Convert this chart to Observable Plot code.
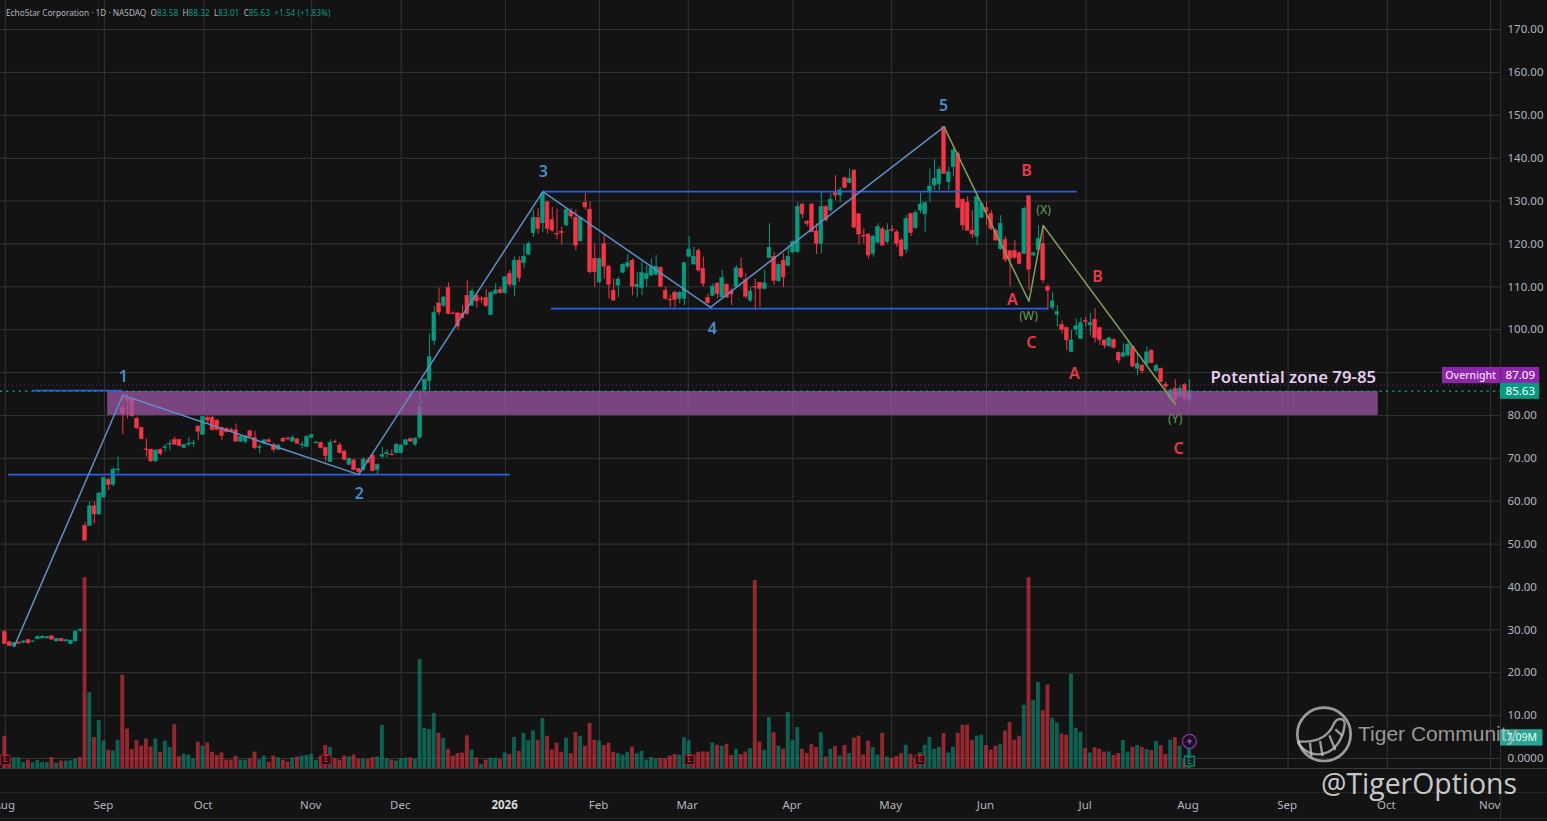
<!DOCTYPE html>
<html><head><meta charset="utf-8">
<script src="https://cdn.jsdelivr.net/npm/d3@7"></script>
<script src="https://cdn.jsdelivr.net/npm/@observablehq/plot@0.6"></script>
<style>
html,body{margin:0;padding:0;background:#131313;width:1547px;height:821px;overflow:hidden}
#wrap{position:relative;width:1547px;height:821px}
#wrap svg.plot{display:block;position:absolute;left:0;top:0}
#head{position:absolute;left:6px;top:7px;font:8.25px "Noto Sans",sans-serif;color:#b2b5be;white-space:pre}
#head b{font-weight:400;color:#089981}
#wm1{position:absolute;left:1358px;top:722px;font:21px "Liberation Sans",sans-serif;color:rgba(205,205,205,.72);white-space:nowrap}
#wm2{position:absolute;left:1321px;top:764px;font:28.4px "Open Sans",sans-serif;color:rgba(225,225,225,.9);white-space:nowrap}
#logo{position:absolute;left:1170px;top:700px}
</style></head><body>
<div id="wrap">
<div id="chart"></div>
<div id="head">EchoStar Corporation · 1D · NASDAQ  O<b>83.58</b>  H<b>88.32</b>  L<b>83.01</b>  C<b>85.63</b>  <b>+1.54 (+1.83%)</b></div>
<svg id="logo" width="377" height="110" viewBox="0 0 1131 330" fill="none" stroke="rgba(200,200,200,.75)">
<circle cx="462" cy="103" r="80" stroke-width="8"/>
<path d="M385 128C420 188 512 172 524 75C526 52 500 50 490 75C475 108 440 130 388 124Z" stroke-width="7"/>
<path d="M420 128L424 170M450 123L458 168M478 106L496 150M496 88L518 108" stroke-width="7"/>
</svg>
<div id="wm1">Tiger Community</div>
<div id="wm2">@TigerOptions</div>
</div>
<script>
const opens=[29.5,27.1,26.1,27.0,27.0,27.6,27.2,27.8,28.0,28.0,
28.5,27.3,27.9,27.3,26.7,27.3,29.8,54.2,54.2,58.8,
56.9,60.9,65.0,63.8,67.2,81.7,84.0,83.7,79.2,77.1,
72.1,72.0,69.3,72.0,72.4,73.2,74.3,74.3,72.4,73.2,
73.4,77.4,75.5,79.4,79.4,78.8,77.1,76.9,76.6,76.5,
73.9,73.9,76.3,74.7,72.4,73.4,74.2,73.1,72.0,74.5,
74.6,73.9,74.4,73.0,72.7,74.8,73.5,73.6,72.4,69.1,
73.8,73.0,71.6,68.5,69.5,67.5,67.3,69.5,70.6,67.3,
70.4,71.0,70.9,71.2,71.2,73.1,74.5,73.2,74.8,85.8,
88.0,97.4,106.1,105.6,109.7,103.8,103.8,103.7,107.9,105.6,
107.9,107.2,107.4,103.4,108.3,109.3,108.5,113.0,110.3,116.1,
115.5,117.5,122.5,126.0,124.8,129.7,125.6,122.3,122.8,124.3,
127.5,126.0,120.6,129.6,128.0,116.5,111.0,120.0,114.7,109.1,
110.3,113.3,114.7,116.1,109.9,109.7,111.8,112.6,112.8,114.4,
109.1,107.0,108.6,107.2,107.2,117.0,115.2,118.4,114.2,107.4,
107.9,110.7,107.5,110.5,108.9,110.0,114.2,111.6,106.8,110.0,
110.9,109.5,116.7,117.0,111.3,116.1,114.9,118.0,118.1,129.2,
125.2,129.2,122.9,120.0,128.6,127.8,132.0,131.3,135.3,134.2,
137.1,126.9,121.9,122.2,117.7,120.3,123.4,120.4,123.3,122.7,
120.8,118.6,127.0,123.7,127.8,126.9,132.2,133.6,133.9,147.2,
134.4,137.9,141.0,130.3,129.6,123.1,121.7,126.1,128.4,127.0,
123.1,118.8,120.9,118.3,118.3,117.8,117.7,131.1,117.3,118.6,
120.0,109.9,105.1,103.5,101.1,100.4,94.8,100.0,97.9,102.0,
101.0,102.3,100.4,97.5,96.1,97.6,94.6,93.7,94.0,96.0,
90.9,91.6,92.0,95.1,90.3,90.9,87.2,83.9,86.2,84.4,
87.1,83.58];
const highs=[29.8,27.3,27.0,27.2,27.4,27.7,27.4,28.6,28.7,28.4,
28.5,28.0,28.0,27.7,27.6,29.7,30.2,55.1,59.8,59.8,
62.0,65.5,65.4,67.9,70.4,85.2,85.0,84.0,79.6,77.2,
74.5,72.2,72.0,72.2,73.2,74.2,75.0,74.4,73.2,74.9,
74.2,77.6,79.8,80.0,79.8,79.0,77.3,77.1,77.0,78.0,
75.2,75.3,76.5,76.3,73.2,74.3,74.6,73.5,73.2,74.9,
75.0,75.3,74.7,73.9,75.2,75.6,73.9,73.8,72.6,74.3,
74.3,73.6,71.8,70.1,69.7,67.7,70.1,70.2,71.0,68.7,
72.6,72.0,72.0,73.4,73.2,74.4,74.7,74.8,86.0,88.5,
99.0,105.4,109.7,107.7,110.9,104.2,104.0,105.6,111.4,109.5,
108.3,107.7,109.3,108.9,110.7,109.9,112.4,113.8,116.9,117.0,
119.8,120.4,127.8,128.2,132.0,130.0,128.5,128.1,123.9,128.4,
128.2,127.9,126.2,131.8,129.7,120.0,116.7,122.3,115.0,111.8,
112.2,115.3,117.6,116.5,113.4,115.7,114.9,116.5,117.3,114.7,
109.9,108.0,109.1,109.0,115.7,121.7,119.2,118.8,116.9,108.3,
110.7,111.0,113.8,110.7,109.5,114.9,116.7,113.0,109.9,111.8,
111.0,113.8,124.7,118.0,115.3,117.7,119.6,120.8,129.7,129.3,
125.4,129.3,124.7,132.0,129.0,131.7,135.9,133.2,135.6,137.5,
137.3,127.0,123.5,122.3,122.0,124.7,123.9,124.7,124.3,123.1,
121.2,126.6,127.2,127.8,131.8,129.7,137.5,139.6,137.9,147.4,
137.9,142.2,141.4,130.5,131.0,127.8,131.3,129.3,129.7,127.8,
123.5,126.6,121.7,118.5,120.8,118.1,128.6,131.3,118.1,124.3,
124.3,110.5,108.7,105.6,102.1,100.6,99.8,102.5,102.8,102.9,
103.7,105.0,100.6,97.6,98.2,97.9,94.8,96.7,97.1,96.3,
94.4,92.0,96.0,95.3,92.0,91.0,87.8,86.2,88.3,87.0,
87.4,88.32];
const lows=[26.6,26.1,26.0,26.6,26.8,26.6,27.1,27.7,27.9,27.9,
27.7,27.2,27.3,27.2,26.5,27.2,29.4,50.8,54.2,54.7,
56.7,60.6,62.5,63.3,66.4,75.5,79.2,79.6,76.6,74.3,
70.3,69.0,69.0,70.6,71.4,71.8,73.0,72.7,72.2,72.7,
72.6,74.2,75.4,78.0,76.3,76.4,74.2,75.9,76.0,73.7,
73.6,73.4,74.8,72.0,71.0,73.2,73.6,71.3,71.8,73.7,
74.2,73.8,73.2,72.2,72.5,74.6,73.3,72.2,69.1,69.0,
73.4,71.0,69.4,68.3,67.1,66.5,67.0,68.8,66.8,66.0,
69.9,70.1,70.6,71.0,71.0,72.9,73.7,72.8,74.5,85.0,
85.8,96.3,103.3,105.2,103.5,103.5,99.9,102.5,103.3,105.4,
105.0,106.2,105.1,103.3,108.2,108.3,108.3,109.9,107.7,111.0,
114.2,117.3,121.5,122.3,122.7,122.3,122.7,121.0,119.8,124.0,
125.8,118.4,120.4,127.9,113.0,109.9,110.8,111.8,107.2,106.6,
107.5,113.0,114.2,107.9,107.5,107.9,109.9,112.4,112.6,109.9,
106.9,105.2,105.1,106.0,105.6,116.9,115.0,113.4,109.9,105.8,
107.7,107.2,107.4,107.2,105.6,109.7,111.8,107.2,106.4,104.4,
105.2,109.3,116.5,110.3,111.0,109.9,114.7,117.7,117.8,125.9,
124.0,122.7,117.5,117.7,125.1,127.4,130.1,129.7,132.8,134.0,
123.5,119.8,120.0,116.5,116.9,120.0,119.6,120.0,122.7,119.2,
116.9,117.7,121.7,123.3,127.0,122.7,129.7,132.5,132.5,136.2,
132.5,135.6,128.2,123.1,123.0,121.2,119.6,125.9,124.3,123.1,
120.6,118.5,115.7,110.0,116.5,115.1,117.5,109.1,117.0,118.5,
110.7,104.5,104.5,100.6,99.0,95.1,94.7,98.6,97.6,100.6,
98.6,96.9,96.3,95.5,95.9,95.5,92.0,93.6,93.6,91.1,
89.3,89.7,91.6,92.0,90.1,87.6,85.4,83.6,83.1,84.1,
83.6,83.01];
const closes=[26.7,26.2,26.9,26.8,27.3,26.9,27.3,28.3,28.4,28.3,
27.7,27.9,27.3,27.6,27.5,29.6,30.0,50.8,58.8,56.9,
61.8,65.4,63.8,67.3,67.4,80.4,83.4,79.8,77.0,74.5,
71.9,69.3,71.8,71.0,72.6,73.4,73.2,72.9,73.1,73.4,
73.5,76.2,79.6,78.8,76.6,76.6,75.2,76.1,76.2,73.9,
75.0,75.1,75.0,72.4,72.6,74.2,73.8,72.0,73.0,73.9,
74.4,74.8,73.4,73.2,75.0,75.4,73.7,72.4,70.5,73.6,
73.7,71.2,69.6,69.9,67.3,66.8,69.7,69.0,67.0,68.5,
70.8,71.2,70.7,73.2,73.0,74.2,73.9,74.6,81.9,88.3,
93.6,103.9,104.0,107.5,103.7,103.7,100.7,102.7,103.7,108.9,
106.6,107.0,105.5,108.5,109.1,108.5,112.2,110.5,116.1,112.0,
117.0,120.0,126.0,123.5,131.7,123.5,123.1,122.2,122.5,127.9,
126.4,119.6,126.0,128.5,113.4,113.4,116.5,114.7,110.5,106.8,
111.7,115.1,115.5,110.0,110.5,113.2,113.0,114.5,114.7,110.0,
107.2,106.8,106.9,108.6,115.5,118.7,117.0,113.8,110.7,106.2,
110.0,108.3,112.0,107.5,108.2,114.3,112.2,107.7,108.9,109.8,
109.5,110.8,119.1,111.4,115.1,112.2,117.0,120.4,128.7,126.9,
124.7,122.7,120.0,128.6,125.5,130.3,131.3,132.5,133.1,135.2,
123.8,122.2,121.7,117.3,121.7,123.9,119.6,123.1,123.1,120.0,
117.1,125.8,122.5,127.2,129.2,129.5,133.4,135.2,137.3,136.3,
136.7,141.8,128.4,124.3,123.1,122.2,130.9,129.3,127.4,123.5,
120.8,124.7,116.3,116.5,116.7,115.3,128.2,114.0,117.8,121.2,
111.5,109.1,106.6,104.1,100.0,97.5,97.5,100.8,101.5,101.8,
101.6,98.1,97.6,96.3,98.0,95.8,92.8,94.5,96.5,91.4,
92.0,90.3,94.7,92.2,91.5,87.8,86.7,85.8,83.6,86.2,
83.9,85.63];
const volumes=[10.4,3.0,3.4,3.4,1.9,2.7,1.8,2.6,1.9,1.9,
3.5,1.7,2.4,2.4,2.5,3.1,3.5,61.5,24.4,10,
15.5,8.8,5.9,5.7,9.1,30,12.7,6.1,9,7.2,
9.5,6.9,9.5,5.2,8.8,6.7,14.1,3.8,4.6,4.3,
3.1,8.5,7.2,8.2,5.2,4.2,5,2.7,2.7,3.9,
2.7,2.7,3.1,5.3,2.8,4,2,4,3.4,2.7,
2.1,3.4,3.7,4,4.2,4.6,2.6,3.8,7.4,6.8,
3.2,2.7,4,3.7,4.3,3,3,3,3.5,3.7,
13.9,3.1,2.7,2.4,3.1,3.3,3.4,3,35.1,12.9,
12.6,17.7,11.3,9.7,6.2,4,4.8,5,10.5,5.9,
3.4,1.3,2.7,3.3,3.3,3,5,4.5,10,5.5,
11.3,8.9,12.1,9.1,16.1,10.4,5.9,8.1,5.2,9.7,
4.8,11.6,10.4,7.2,14.5,9.1,8.9,7.4,8.1,5.2,
4.8,4.3,5.2,6.9,4.8,5.5,2.7,3.5,3.1,3.3,
3.1,4,4.5,4.3,9.9,8.9,4.3,5.2,5.3,5.3,
8.2,7.5,7.2,7.8,4.2,6.2,4.5,5.3,6.4,60.6,
8.5,5.9,16.4,11.5,7.2,6.2,18,8.9,13.2,6.2,
4.8,7.7,6.8,11.5,3.7,6.2,7.1,4,7.4,4.8,
9.8,10.4,4.4,8.8,6.7,4.3,11.3,3.7,3.3,3.9,
4.8,7.5,4.6,3.2,5,7.5,10,6.2,6.8,11.3,
5,6.8,11.3,13.9,14,9.1,10.4,10.7,7.4,5.9,
7.2,7.7,12.1,14.8,9.1,10.4,20.4,61.5,22,27.7,
18.6,26.9,16.2,14.7,11.1,10.7,30.4,12.9,11.7,6.4,
5,6.7,6.2,5.3,5.3,4.2,4.8,9,5.3,6.8,
7.4,6.8,6.1,5.8,8.7,7.4,4.6,9.1,10,7.2,
3,7.09];
const volumeDirs=["rrgggrgggg","rgrgggrrgr","ggrggrrrrr","rrgrggrrgg","grgrrrrrrr",
"ggrrggrrgr","rgrggggrrg","rrrgrrgrrg","ggrgggrggg","ggrgrrrrrg",
"rgrggrgrgr","gggrgrrrrg","rrgrrrgrrr","gggrgggggr","rrrgggrrrr",
"grgrrgrrgr","rggrgrgggr","rrrgrgrgrg","rrrrggrgrr","rgrrgggggr",
"ggrrrrggrr","rgrrrrgrgg","rrggrrgggr","grrrgrrggr","grgrgrrgrg","rg"].join("");
const priceTicks=[0,10,20,30,40,50,60,70,80,90,100,110,120,130,140,150,160,170];
const monthTicks=[0.1,21.1,42.2,65,84,126,144.8,167,187.9,208,229.1,250.9,271.9,292.9,314.8];
const monthNames=["Aug","Sep","Oct","Nov","Dec","Feb","Mar","Apr","May","Jun","Jul","Aug","Sep","Oct","Nov"];
const yearTick=[106.1];
const yearName="2026";
const waveBars=[2,25,75,114,149.5,199];
const wavePrices=[26.1,84.7,66.2,132.2,105.2,147.3];
const corrBars=[199,217,220,248];
const corrPrices=[147.3,106.6,124.3,82.6];
const levels=[{p:85.8,a:6,b:25},{p:66.2,a:0.8,b:107.1},{p:132.2,a:114,b:227.2},{p:104.9,a:115.8,b:221.1}];
const zone={a:21.8,b:291,lo:80,hi:85.6};
const waveLabels=[["1",25.1,89.1],["2",75.1,61.6],["3",114.1,136.9],["4",149.9,100.3],["5",198.9,152.1]];
const abcLabels=[["B",216.5,137.1],["A",213.5,107],["C",217.5,97],["A",226.6,89.8],["B",231.5,112.4],["C",248.7,72.3]];
const wxyLabels=[["(X)",220.1,127.8],["(W)",216.9,103.1],["(Y)",248,79.1]];
const earnings=[0.1,68.1,145,193.9];
const lastClose=85.63, overnight=87.09, lastVol=7.09;

const RED="#f23645",GREEN="#089981",GRID="#343434",AX="#b2b5be",FONT="Noto Sans";
const volBase=-2.332, volK=0.7236; // volume pane: millions mapped onto the pane's shared scale
const xMax=316.9, xEdge=326.8;
const idx=d3.range(opens.length);
const up=i=>closes[i]>=opens[i];
const bolt={draw(c){c.moveTo(1,-4.2);c.lineTo(-2.6,0.8);c.lineTo(-0.2,0.8);c.lineTo(-1,4.2);c.lineTo(2.6,-1);c.lineTo(0.2,-1);c.closePath();}};
const lab=(arr,fill,size,weight)=>Plot.text(arr,{x:d=>d[1],y:d=>d[2],text:d=>d[0],fill,fontSize:size,fontWeight:weight,fontFamily:FONT});
const chart=Plot.plot({
 width:1547,height:821,marginTop:0,marginBottom:53,marginLeft:0,marginRight:47,
 style:{background:"transparent",overflow:"visible"},
 x:{domain:[-0.911,xMax],axis:null},
 y:{domain:[-2.332,176.77],axis:null},
 marks:[
  Plot.gridY(priceTicks,{stroke:GRID,strokeOpacity:1}),
  Plot.gridX(monthTicks.concat(yearTick),{stroke:GRID,strokeOpacity:1}),
  Plot.rect(idx,{x1:i=>i-.41,x2:i=>i+.41,y1:volBase,y2:i=>volBase+volumes[i]*volK,
    fill:i=>volumeDirs[i]==="g"?GREEN:RED,fillOpacity:.58}),
  Plot.ruleY([-2.332],{x1:-0.911,x2:xEdge,stroke:"#3a3a3a"}),
  Plot.ruleY([-7.93],{x1:-0.911,x2:xEdge,stroke:"#242424"}),
  Plot.ruleY([-14],{x1:-0.911,x2:xEdge,stroke:"#2f2f2f"}),
  Plot.ruleX([xMax],{y1:176.77,y2:-14,stroke:"#2f2f2f"}),
  Plot.ruleX(idx,{x:i=>i,y1:i=>lows[i],y2:i=>highs[i],stroke:i=>up(i)?GREEN:RED,strokeWidth:1}),
  Plot.rect(idx,{x1:i=>i-.4,x2:i=>i+.4,y1:i=>opens[i],y2:i=>closes[i],
    fill:i=>up(i)?GREEN:RED,stroke:i=>up(i)?GREEN:RED,strokeWidth:.5}),
  Plot.rect([zone],{x1:"a",x2:"b",y1:"lo",y2:"hi",fill:"#9c56a4",fillOpacity:.75}),
  Plot.ruleY([overnight],{x1:-0.911,x2:xMax,stroke:"#7b2d8c",strokeDasharray:"1 3",strokeOpacity:.8}),
  Plot.ruleY([lastClose],{x1:-0.911,x2:xMax,stroke:GREEN,strokeWidth:1.5,strokeDasharray:"2 4.3"}),
  Plot.ruleY(levels,{y:"p",x1:"a",x2:"b",stroke:"#2b5fe8",strokeWidth:1.8}),
  Plot.line(waveBars.map((b,k)=>[b,wavePrices[k]]),{x:"0",y:"1",stroke:"#5f8fc4",strokeWidth:1.5}),
  Plot.line(corrBars.map((b,k)=>[b,corrPrices[k]]),{x:"0",y:"1",stroke:"#7f9f5c",strokeWidth:1.5}),
  lab(waveLabels,"#4a8ac9",16,600),
  lab(abcLabels,"#e8394a",16,600),
  lab(wxyLabels,"#5f8f52",12,500),
  Plot.text(["Potential zone 79-85"],{x:273,y:88.8,fill:"#e6cdf0",fontSize:16.8,fontWeight:600,fontFamily:FONT}),
  Plot.dot(earnings,{x:d=>d,y:-0.3,symbol:"square",r:5.5,fill:"#2a0c10",stroke:"#a31f2d",strokeWidth:1}),
  Plot.text(earnings,{x:d=>d,y:-0.3,text:()=>"E",fill:"#e8394a",fontSize:8,fontFamily:FONT}),
  Plot.dot([251],{x:d=>d,y:-0.6,symbol:"square",r:5.5,fill:"#0c2220",stroke:"#0d7d6c"}),
  Plot.text([251],{x:d=>d,y:-0.6,text:()=>"E",fill:"#16a08a",fontSize:8,fontFamily:FONT}),
  Plot.dot([251],{x:d=>d,y:4,r:7,fill:"#1a0f1e",stroke:"#8e3cb0",strokeWidth:1.2}),
  Plot.dot([251],{x:d=>d,y:4,symbol:bolt,r:4,fill:"#a24fc6",stroke:"none"}),
  Plot.axisY(priceTicks,{anchor:"right",label:null,tickSize:0,tickPadding:7,tickFormat:d=>d===0?"0.0000":d.toFixed(2),
    fill:AX,fontSize:11.5,fontFamily:FONT}),
  Plot.axisX(monthTicks,{anchor:"bottom",label:null,tickSize:0,tickPadding:32,dx:-1,
    tickFormat:d=>monthNames[monthTicks.indexOf(d)],fill:AX,fontSize:11.5,fontFamily:FONT}),
  Plot.axisX(yearTick,{anchor:"bottom",label:null,tickSize:0,tickPadding:32,dx:-1,tickFormat:()=>yearName,
    fill:"#d6d8de",fontSize:11.5,fontWeight:700,fontFamily:FONT}),
  // price tags
  Plot.rect([0],{x1:304.6,x2:xMax,y1:87.4,y2:91.2,fill:"#8e24aa"}),
  Plot.rect([0],{x1:xMax+.1,x2:325.2,y1:87.4,y2:91.2,fill:"#8e24aa"}),
  Plot.rect([0],{x1:xMax,x2:325.2,y1:lastClose-1.87,y2:lastClose+1.87,fill:GREEN}),
  Plot.rect([0],{x1:xMax,x2:325.9,y1:2.9,y2:6.7,fill:"#2aa594"}),
  Plot.text(["Overnight"],{x:310.6,y:89.3,fill:"#f0dcf5",fontSize:10.5,fontWeight:500,fontFamily:FONT}),
  Plot.text([overnight],{x:321.1,y:89.3,text:d=>d.toFixed(2),fill:"#fff",fontSize:11.5,fontFamily:FONT}),
  Plot.text([lastClose],{x:321.1,y:lastClose,text:d=>d.toFixed(2),fill:"#fff",fontSize:11.5,fontFamily:FONT}),
  Plot.text([lastVol],{x:321.4,y:4.8,text:d=>d.toFixed(2)+"M",fill:"#eafff9",fontSize:10.5,fontFamily:FONT})
 ]
});
document.getElementById("chart").append(chart);
</script>
</body></html>
